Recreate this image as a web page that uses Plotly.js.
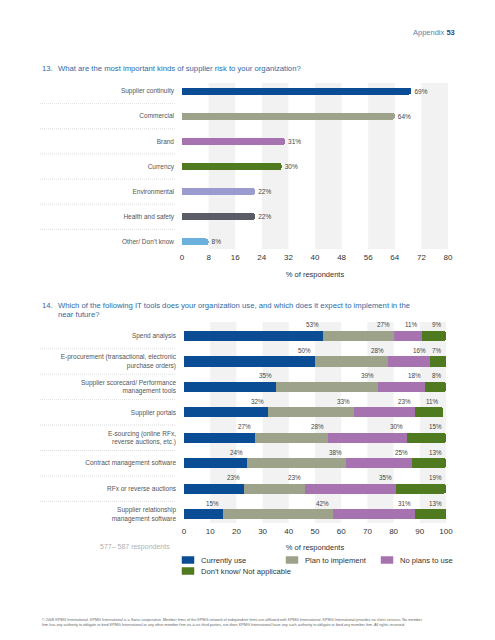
<!DOCTYPE html>
<html>
<head>
<meta charset="utf-8">
<script src="https://cdn.plot.ly/plotly-3.0.1.min.js"></script>
<style>
  html, body { margin: 0; padding: 0; background: #ffffff; }
  #chart { width: 495px; height: 640px; }
</style>
</head>
<body>
<div id="chart"></div>
<script>
// ---------- Data: Question 13 ----------
const riskCategories = [
  "Supplier continuity", "Commercial", "Brand", "Currency",
  "Environmental", "Health and safety", "Other/ Don\u2019t know"
];
const riskValues = [69, 64, 31, 30, 22, 22, 8];
const riskTicks = [0, 8, 16, 24, 32, 40, 48, 56, 64, 72, 80];

// ---------- Data: Question 14 ----------
const toolCategories = [
  "Spend analysis",
  "E-procurement (transactional, electronic<br>purchase orders)",
  "Supplier scorecard/ Performance<br>management tools",
  "Supplier portals",
  "E-sourcing (online RFx,<br>reverse auctions, etc.)",
  "Contract management software",
  "RFx or reverse auctions",
  "Supplier relationship<br>management software"
];
const seriesNames = ["Currently use", "Plan to implement", "No plans to use", "Don\u2019t know/ Not applicable"];
const currentlyUse    = [53, 50, 35, 32, 27, 24, 23, 15];
const planToImplement = [27, 28, 39, 33, 28, 38, 23, 42];
const noPlansToUse    = [11, 16, 18, 23, 30, 25, 35, 31];
const dontKnow        = [9, 7, 8, 11, 15, 13, 19, 13];
const toolTicks = [0, 10, 20, 30, 40, 50, 60, 70, 80, 90, 100];

// ---------- Styles ----------
const riskColors = ["#0b4d94", "#9ca38a", "#a673b0", "#4f7a1f", "#9b9bd0", "#5b5d66", "#6cb0de"];
const seriesColors = ["#0b4d94", "#9ca38a", "#a673b0", "#4f7a1f"];
const FONT = "Liberation Sans, Arial, sans-serif";
const W = 495, H = 640;
const px = x => x / W;
const py = y => 1 - y / H;

const riskIdx = riskCategories.map((_, i) => i);
const toolIdx = toolCategories.map((_, i) => i);

const traces = [];
traces.push({
  type: "bar", orientation: "h",
  x: riskValues, y: riskIdx,
  xaxis: "x", yaxis: "y",
  width: 0.28,
  marker: { color: riskColors },
  text: riskValues.map(v => v + "%"),
  textposition: "outside",
  textfont: { family: FONT, size: 6.5, color: "#444" },
  cliponaxis: false,
  showlegend: false,
  hoverinfo: "skip"
});

const seriesData = [currentlyUse, planToImplement, noPlansToUse, dontKnow];
seriesData.forEach((vals, s) => {
  traces.push({
    type: "bar", orientation: "h",
    x: vals, y: toolIdx,
    xaxis: "x2", yaxis: "y2",
    width: 0.4,
    name: seriesNames[s],
    marker: { color: seriesColors[s] },
    showlegend: false,
    hoverinfo: "skip"
  });
});

// Shapes: alternating light bands and dotted separators
const shapes = [];
for (let i = 1; i < riskTicks.length; i += 2) {
  shapes.push({ type: "rect", xref: "x", yref: "y domain", x0: riskTicks[i], x1: riskTicks[i + 1],
    y0: 0, y1: 1, fillcolor: "#f2f2f2", line: { width: 0 }, layer: "below" });
}
for (let i = 1; i < toolTicks.length; i += 2) {
  shapes.push({ type: "rect", xref: "x2", yref: "y2 domain", x0: toolTicks[i], x1: toolTicks[i + 1],
    y0: 0, y1: 1, fillcolor: "#f2f2f2", line: { width: 0 }, layer: "below" });
}
const sepLine = { color: "#d4d4d4", width: 0.8, dash: "1px,1px" };
for (let i = 0; i < riskCategories.length - 1; i++) {
  shapes.push({ type: "line", xref: "paper", yref: "y", x0: px(40), x1: px(175), y0: i + 0.5, y1: i + 0.5, line: sepLine });
}
for (let i = 0; i < toolCategories.length - 1; i++) {
  shapes.push({ type: "line", xref: "paper", yref: "y2", x0: px(40), x1: px(175), y0: i + 0.5, y1: i + 0.5, line: sepLine });
}

// Annotations
const annotations = [];
annotations.push({ xref: "paper", yref: "paper", x: px(457), y: py(33), xanchor: "right", yanchor: "middle",
  text: "<span style='color:#5b7fae'>Appendix</span> <b>53</b>", showarrow: false,
  font: { family: FONT, size: 7.5, color: "#1f4e8c" } });
const qColor = "#2f6aa3";
const qSize = 7.7;
annotations.push({ xref: "paper", yref: "paper", x: px(40), y: py(69), xanchor: "left", yanchor: "middle",
  text: "13.", showarrow: false, font: { family: FONT, size: qSize, color: qColor } });
annotations.push({ xref: "paper", yref: "paper", x: px(56), y: py(69), xanchor: "left", yanchor: "middle",
  text: "What are the most important kinds of supplier risk to your organization?", showarrow: false,
  font: { family: FONT, size: qSize, color: qColor } });
annotations.push({ xref: "paper", yref: "paper", x: px(40), y: py(305), xanchor: "left", yanchor: "middle",
  text: "14.", showarrow: false, font: { family: FONT, size: qSize, color: qColor } });
annotations.push({ xref: "paper", yref: "paper", x: px(56), y: py(305), xanchor: "left", yanchor: "middle",
  text: "Which of the following IT tools does your organization use, and which does it expect to implement in the",
  showarrow: false, font: { family: FONT, size: qSize, color: qColor } });
annotations.push({ xref: "paper", yref: "paper", x: px(56), y: py(314.5), xanchor: "left", yanchor: "middle",
  text: "near future?", showarrow: false, font: { family: FONT, size: qSize, color: qColor } });
annotations.push({ xref: "paper", yref: "paper", x: px(172), y: py(547), xanchor: "right", yanchor: "middle",
  text: "577\u2013 587 respondents", showarrow: false, font: { family: FONT, size: 7, color: "#b0b0b0" } });

// Segment value labels for Q14 (right end of each segment, above the bar)
toolIdx.forEach(i => {
  let cum = 0;
  seriesData.forEach(vals => {
    cum += vals[i];
    annotations.push({ xref: "x2", yref: "y2", x: Math.min(cum, 100), y: i, xanchor: "right", yanchor: "middle",
      xshift: -2, yshift: 11, text: vals[i] + "%", showarrow: false,
      font: { family: FONT, size: 6.3, color: "#444" } });
  });
});

// Legend (drawn as swatches + labels)
const legendPos = [[182, 560], [286, 560], [381, 560], [182, 571]];
seriesNames.forEach((name, s) => {
  const [lx, ly] = legendPos[s];
  shapes.push({ type: "rect", xref: "paper", yref: "paper", x0: px(lx), x1: px(lx + 12), y0: py(ly + 3.5), y1: py(ly - 3.5),
    fillcolor: seriesColors[s], line: { color: seriesColors[s], width: 0.5 } });
  annotations.push({ xref: "paper", yref: "paper", x: px(lx + 17), y: py(ly), xanchor: "left", yanchor: "middle",
    text: name, showarrow: false, font: { family: FONT, size: 7.6, color: "#333" } });
});

// Footer
annotations.push({ xref: "paper", yref: "paper", x: px(40), y: py(619.5), xanchor: "left", yanchor: "middle",
  text: "\u00a9 2008 KPMG International. KPMG International is a Swiss cooperative. Member firms of the KPMG network of independent firms are affiliated with KPMG International. KPMG International provides no client services. No member",
  showarrow: false, font: { family: FONT, size: 3.75, color: "#666" } });
annotations.push({ xref: "paper", yref: "paper", x: px(40), y: py(624.8), xanchor: "left", yanchor: "middle",
  text: "firm has any authority to obligate or bind KPMG International or any other member firm vis-\u00e0-vis third parties, nor does KPMG International have any such authority to obligate or bind any member firm. All rights reserved.",
  showarrow: false, font: { family: FONT, size: 3.75, color: "#666" } });

const axisTickFont = { family: FONT, size: 8, color: "#333" };
const catFont = { family: FONT, size: 6.5, color: "#555" };

const layout = {
  width: W, height: H,
  margin: { l: 0, r: 0, t: 0, b: 0 },
  paper_bgcolor: "#ffffff", plot_bgcolor: "rgba(0,0,0,0)",
  font: { family: FONT },
  barmode: "stack",
  barcornerradius: 3,
  xaxis: {
    domain: [px(182), px(448)], anchor: "y",
    range: [0, 80], tickvals: riskTicks, showgrid: false, zeroline: false, showline: false,
    ticks: "", tickfont: axisTickFont, fixedrange: true, ticklabelstandoff: 2,
    title: { text: "% of respondents", font: { family: FONT, size: 7.5, color: "#333" }, standoff: 10 }
  },
  yaxis: {
    domain: [py(249), py(83)], anchor: "x",
    range: [6.28, -0.32], tickvals: riskIdx, ticktext: riskCategories,
    showgrid: false, zeroline: false, showline: false, ticks: "",
    ticklabelstandoff: 7, tickfont: catFont, fixedrange: true
  },
  xaxis2: {
    domain: [px(184), px(446)], anchor: "y2",
    range: [0, 100], tickvals: toolTicks, showgrid: false, zeroline: false, showline: false,
    ticks: "", tickfont: axisTickFont, fixedrange: true, ticklabelstandoff: 2,
    title: { text: "% of respondents", font: { family: FONT, size: 7.5, color: "#333" }, standoff: 9 }
  },
  yaxis2: {
    domain: [py(523), py(322)], anchor: "x2",
    range: [7.35, -0.55], tickvals: toolIdx, ticktext: toolCategories,
    showgrid: false, zeroline: false, showline: false, ticks: "",
    ticklabelstandoff: 7, tickfont: catFont, fixedrange: true
  },
  showlegend: false,
  shapes: shapes,
  annotations: annotations
};

Plotly.newPlot("chart", traces, layout, { staticPlot: true, displayModeBar: false });
</script>
</body>
</html>
